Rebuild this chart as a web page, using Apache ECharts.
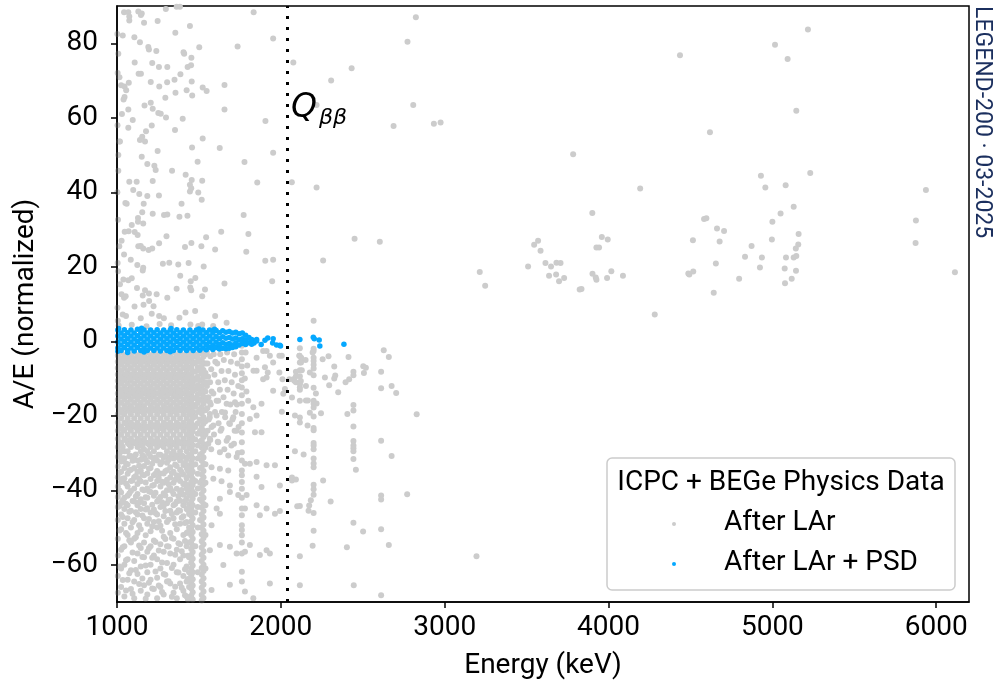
<!DOCTYPE html>
<html>
<head>
<meta charset="utf-8">
<script src="https://cdn.jsdelivr.net/npm/echarts@6/dist/echarts.min.js"></script>
<style>
html, body { margin: 0; padding: 0; background: #fff; }
#chart { width: 997px; height: 692px; }
</style>
</head>
<body>
<div id="chart"></div>
<script>
// axis ticks
const xTicks = [1000, 2000, 3000, 4000, 5000, 6000];
const yTicks = [-60, -40, -20, 0, 20, 40, 60, 80];
const qbb = 2039;
const seriesNames = ['After LAr', 'After LAr + PSD'];
const seriesColors = ['#cccccc', '#05a8ff'];

// dense gray block below the band: [energy, [A/E values]]
const denseCols = [
  [1005, [-3.8,-5.5,-7.2,-8.9,-10.6,-12.3,-14,-15.7,-17.4,-19.6,-21.8,-24,-26.2,-28.4,-31,-33.6,-36.5,-39,-41.8,-44.5,-48,-53,-57.5,-63,-67.5]],
  [1025, [-3,-4.6,-6.3,-8,-9.7,-11.4,-13.1,-14.8,-16.5,-18.5,-20.7,-22.9,-25.1,-27.3,-29.5,-32.3,-35,-37.8,-40.6,-43.4,-46.5,-50.5,-56,-61,-66]],
  [1045, [-3.8,-5.5,-7.2,-8.9,-10.6,-12.3,-14,-15.7,-17.4,-19.6,-21.8,-24,-26.2,-29.5,-31.5,-34,-36.8,-42,-45,-49,-55,-60,-68.5]],
  [1065, [-3,-4.6,-6.3,-8,-9.7,-11.4,-13.1,-14.8,-16.5,-18.5,-20.7,-22.9,-25.1,-27.3,-29.5,-33,-35.6,-39,-41.5,-44,-47.5,-52,-58.5,-64]],
  [1085, [-3.8,-5.5,-7.2,-8.9,-10.6,-12.3,-14,-15.7,-17.4,-19.6,-21.8,-24,-26.2,-28.4,-30.8,-34.5,-37.5,-40.2,-45.5,-50,-54,-61.5,-66.5]],
  [1105, [-3,-4.6,-6.3,-8,-9.7,-11.4,-13.1,-14.8,-16.5,-18.5,-20.7,-22.9,-25.1,-27.3,-31.5,-34,-36.5,-39.5,-43,-48,-53,-59,-64.5,-69]],
  [1125, [-3.8,-5.5,-7.2,-8.9,-10.6,-12.3,-14,-15.7,-17.4,-19.6,-21.8,-24,-26.2,-28.4,-32,-35,-38.3,-41,-44,-46.5,-51.5,-57,-62.5]],
  [1145, [-3,-4.6,-6.3,-8,-9.7,-11.4,-13.1,-14.8,-16.5,-18.5,-20.7,-22.9,-25.1,-27.3,-29.5,-31.8,-34.6,-37.6,-42.4,-45,-50.5,-55.5,-60.5,-67]],
  [1165, [-3.8,-5.5,-7.2,-8.9,-10.6,-12.3,-14,-15.7,-17.4,-19.6,-21.8,-24,-26.2,-29,-31,-33.5,-36,-40,-43.5,-47.5,-54,-58,-65.5]],
  [1185, [-3,-4.6,-6.3,-8,-9.7,-11.4,-13.1,-14.8,-16.5,-18.5,-20.7,-22.9,-25.1,-27.3,-29.5,-32.5,-35.5,-39.5,-42,-44.8,-49,-56.5,-62,-68]],
  [1205, [-3.8,-5.5,-7.2,-8.9,-10.6,-12.3,-14,-15.7,-17.4,-19.6,-21.8,-24,-26.2,-28.4,-31,-34,-37,-40.5,-46,-51,-55,-60,-64]],
  [1225, [-3,-4.6,-6.3,-8,-9.7,-11.4,-13.1,-14.8,-16.5,-18.5,-20.7,-22.9,-25.1,-27.3,-29.5,-31.7,-36,-38.6,-41.5,-45.2,-48.5,-53.5,-57.5,-66.5]],
  [1245, [-3.8,-5.5,-7.2,-8.9,-10.6,-12.3,-14,-15.7,-17.4,-19.6,-21.8,-24,-26.2,-28.4,-32,-34.8,-37.5,-43,-46.5,-50,-58.5,-63.5,-69]],
  [1265, [-3,-4.6,-6.3,-8,-9.7,-11.4,-13.1,-14.8,-16.5,-18.5,-20.7,-22.9,-25.1,-27.3,-30.5,-33,-35.5,-39,-41.8,-44.5,-49.5,-54.5,-61,-66]],
  [1285, [-3.8,-5.5,-7.2,-8.9,-10.6,-12.3,-14,-15.7,-17.4,-19.6,-21.8,-24,-26.2,-28.4,-31.2,-35.5,-38,-40.8,-44.2,-47,-52.5,-56.5,-62.5,-68]],
  [1305, [-3,-4.6,-6.3,-8,-9.7,-11.4,-13.1,-14.8,-16.5,-18.5,-20.7,-22.9,-25.1,-27.3,-29.5,-32.6,-34.6,-37.2,-40,-43.5,-48.5,-55,-59.5,-64.5]],
  [1325, [-3.8,-5.5,-7.2,-8.9,-10.6,-12.3,-14,-15.7,-17.4,-19.6,-21.8,-24,-26.2,-28.4,-31,-33.8,-36.6,-39.4,-42.5,-45.5,-51.5,-57,-65]],
  [1345, [-3,-4.6,-6.3,-8,-9.7,-11.4,-13.1,-14.8,-16.5,-18.5,-20.7,-22.9,-25.1,-27.3,-29.5,-31.5,-35,-38,-41,-44,-47.5,-53,-60,-67.5]],
  [1365, [-3.8,-5.5,-7.2,-8.9,-10.6,-12.3,-14,-15.7,-17.4,-19.6,-21.8,-24,-26.2,-28.4,-30.6,-33.5,-36,-39.6,-43,-46,-50.5,-56,-62,-69]],
  [1385, [-3,-4.6,-6.3,-8,-9.7,-11.4,-13.1,-14.8,-16.5,-18.5,-20.7,-22.9,-25.1,-27.3,-29.5,-32,-34.5,-37.5,-40.5,-42.8,-45.5,-49,-54.5,-58.5,-65]],
  [1405, [-3.8,-5.5,-7.2,-8.9,-10.6,-12.3,-14,-15.7,-17.4,-19.6,-21.8,-24,-26.2,-28.4,-31,-33.2,-35.8,-38.4,-41.2,-44,-47,-52,-57.5,-63,-67]],
  [1425, [-3,-4.6,-6.3,-8,-9.7,-11.4,-13.1,-14.8,-16.5,-18.5,-20.7,-22.9,-25.1,-27.3,-29.5,-31.6,-34,-36.8,-39.5,-42.3,-45,-48.5,-51.5,-55,-60.5,-64.5,-68.5]],
  [1440, [-3.8,-5.5,-7.2,-8.9,-10.6,-12.3,-14,-15.7,-17.4,-19.6,-21.8,-24,-26.2,-28.4,-30.8,-33.4,-36,-38.6,-41.2,-43.8,-46.4,-50,-54,-58,-62,-66]],
  // K-40 line
  [1453, [-3.5,-5.2,-7.1,-8.8,-10.8,-12.4,-14.3,-16.2,-17.8,-19.8,-21.4,-23.4,-25.1,-26.9,-28.8,-30.4,-32.4,-34.1,-35.8,-37.8,-39.4,-41.4,-43.1,-44.8,-46.8,-48.4,-50.4,-52.1,-53.8,-55.8,-57.4,-59.4,-61.1,-62.8,-64.8,-66.4,-68.3]],
  [1462, [-4.3,-6.1,-8,-9.8,-11.6,-13.4,-15.2,-17,-18.9,-20.6,-22.5,-24.2,-26,-27.9,-29.6,-31.4,-33.2,-35,-36.9,-38.6,-40.4,-42.2,-44,-45.9,-47.6,-49.4,-51.2,-53,-54.9,-56.6,-58.4,-60.2,-62,-63.9,-65.6,-67.4,-69.3]],
  [1478, [-3.5,-5.8,-8.2,-10.4,-12.9,-15.3,-17.6,-20.3,-23,-26.4,-29.5,-33,-37.5,-41,-46,-55]],
  [1493, [-4.5,-7,-9.5,-11.8,-14.2,-16.6,-19,-22,-24.8,-28,-31.5,-35.6,-39.5,-44.5,-50,-62]],
  [1507, [-3.2,-5.6,-8,-10.6,-13,-15.6,-18.2,-21,-24,-27,-30.5,-34,-38,-42.5,-48]],
  // K-42 line
  [1517, [-3.2,-5,-6.9,-8.6,-10.5,-12.2,-14.1,-15.8,-17.7,-19.4,-21.3,-23,-24.9,-26.6,-28.5,-30.2,-32.1,-33.8,-35.7,-37.4,-39.3,-41,-42.9,-44.6,-46.5,-48.2,-50.1,-51.8,-53.7,-55.4,-57.3,-59,-60.9,-62.6,-64.5,-66.2,-68.1,-69.6]],
  [1528, [-4.1,-5.9,-7.7,-9.6,-11.3,-13.2,-14.9,-16.8,-18.5,-20.4,-22.1,-24,-25.7,-27.6,-29.3,-31.2,-32.9,-34.8,-36.5,-38.4,-40.1,-42,-43.7,-45.6,-47.3,-49.2,-50.9,-52.8,-54.5,-56.4,-58.1,-60,-61.7,-63.6,-65.3,-67.2,-68.9]],
  [1540, [-3.5,-6,-8.5,-11,-13.5,-16,-18.5,-21.5,-25,-28.5,-33,-38,-44,-52,-61]],
  // Bi-214 line
  [1762, [-1.2,-3,-4.8,-6.8,-8.6,-10.5,-12.4,-14.5,-16.8,-19.5,-22,-24.5,-27.1,-29.8,-32,-34.7,-36,-37.8,-39.6,-42,-44.9,-46.7,-49.4,-50.7,-52.1,-54,-57,-61.9,-64.5]]
];

// extra gray in between the columns above (fills the holes of the block)
const denseFill = [
  [1015, [-4.6,-9.4,-13.8,-18.3,-22.8,-27.1,-30.2,-35.3,-40.1,-44.2,-50.8,-60.5]],
  [1035, [-5.1,-10.2,-14.6,-19.2,-23.7,-28.3,-31.4,-36.9,-42.7,-47.2,-55.3,-64.1]],
  [1055, [-4.3,-8.8,-13.1,-17.9,-22.1,-26.6,-32.8,-38.2,-43.6,-51.5,-58.8,-66.9]],
  [1075, [-5.4,-9.9,-14.2,-18.8,-23.3,-27.8,-30.9,-34.7,-40.9,-45.8,-53.4,-62.3]],
  [1095, [-4.8,-9.1,-13.6,-18.1,-22.4,-26.9,-32.1,-37.4,-42.9,-48.6,-56.7,-67.8]],
  [1115, [-5.2,-9.6,-14.4,-18.6,-23.1,-27.4,-30.4,-36.2,-41.7,-45.9,-52.6,-61.4]],
  [1135, [-4.4,-8.9,-13.3,-17.7,-22.6,-26.5,-33.4,-37.0,-43.3,-49.4,-54.8,-65.2]],
  [1155, [-5.0,-9.8,-14.1,-18.9,-23.5,-28.1,-30.6,-35.8,-39.8,-46.8,-57.9,-63.7]],
  [1175, [-4.7,-9.2,-13.7,-18.4,-22.9,-27.2,-31.8,-37.9,-41.9,-45.2,-52.1,-60.2,-69.1]],
  [1195, [-5.3,-9.7,-14.3,-18.7,-23.2,-27.7,-30.3,-34.2,-40.3,-47.7,-55.6,-64.8]],
  [1215, [-4.5,-9.0,-13.5,-18.0,-22.5,-26.8,-32.9,-38.8,-43.9,-49.7,-58.1,-66.4]],
  [1235, [-5.1,-9.5,-14.0,-18.5,-23.0,-27.5,-31.2,-35.6,-40.7,-46.1,-53.9,-61.8]],
  [1255, [-4.6,-9.3,-13.9,-18.2,-22.7,-27.0,-30.5,-36.7,-42.4,-48.3,-56.2,-65.6]],
  [1275, [-5.2,-9.8,-14.2,-18.8,-23.4,-27.9,-32.4,-37.7,-43.2,-50.9,-59.4,-67.3]],
  [1295, [-4.4,-9.0,-13.4,-17.9,-22.3,-26.7,-30.8,-34.9,-41.4,-45.6,-53.1,-62.7]],
  [1315, [-5.0,-9.6,-14.1,-18.6,-23.1,-27.6,-31.9,-38.4,-42.6,-47.9,-55.1,-64.4]],
  [1335, [-4.7,-9.2,-13.6,-18.1,-22.6,-27.1,-30.2,-35.4,-40.2,-46.4,-52.8,-60.9,-68.6]],
  [1355, [-5.3,-9.7,-14.3,-18.9,-23.3,-27.8,-33.1,-37.2,-43.7,-49.1,-57.3,-65.9]],
  [1375, [-4.5,-9.1,-13.5,-18.0,-22.4,-26.9,-31.3,-36.4,-41.6,-45.4,-54.2,-62.1]],
  [1395, [-5.1,-9.5,-14.0,-18.4,-23.0,-27.4,-30.7,-35.1,-39.9,-47.4,-56.4,-66.2]],
  [1415, [-4.6,-9.2,-13.8,-18.3,-22.8,-27.3,-32.6,-38.1,-42.9,-48.8,-53.6,-61.2,-68.2]],
  [1433, [-5.0,-9.4,-13.9,-18.5,-23.0,-27.5,-31.1,-34.8,-40.6,-45.3,-51.2,-57.6,-63.8,-69.4]]
];

// looser gray between 1550 and 2000 keV, below the band
const midPts = [
  [1548,-3],[1552,-6],[1556,-9.5],[1549,-12],[1558,-15],[1551,-18],[1560,-21],[1553,-24],[1557,-27.5],
  [1570,-4],[1575,-7.5],[1568,-11],[1578,-13.5],[1572,-17],[1566,-20.5],[1577,-23],[1569,-26.5],[1575,-29],
  [1590,-3.5],[1595,-9],[1588,-14],[1598,-19],[1592,-25],[1600,-5.5],
  [1612,-6],[1618,-11],[1608,-16],[1620,-22],[1615,-27],
  [1630,-3.5],[1638,-8],[1628,-13],[1640,-19],[1632,-24],
  [1652,-5],[1658,-10.5],[1650,-15],[1660,-20.4],[1655,-29],
  [1672,-3],[1680,-8],[1675,-13],[1669,-16.8],[1685,-22],[1678,-26],
  [1695,-5.5],[1700,-11],[1692,-17],[1705,-21],[1698,-28],
  [1715,-3.5],[1720,-9],[1712,-14],[1724,-19],[1718,-24],
  [1735,-6],[1740,-12],[1732,-17],[1742,-23],[1738,-30],
  [1785,-3],[1795,-6.5],[1780,-10],[1790,-13.5],
  [1567,-16.4],[1618,-16.0],[1720,-16.4],[1801,-16.0],[1832,-17.7],[1882,-16.8],
  [1567,-19.5],[1608,-19.9],[1659,-19.1],[1710,-20.4],[1811,-20.9],[1852,-19.9],
  [1588,-22.6],[1638,-23.5],[1689,-22.2],[1730,-24.0],[1842,-24.4],[1882,-24.4],
  [1567,-26.2],[1618,-27.1],[1669,-26.7],[1714,-27.5],
  [1628,-29.8],[1679,-30.7],[1730,-31.1],[1852,-32.4],[1913,-33.3],[1964,-33.3],[1781,-32.9],[1811,-32.9],
  [1577,-33.8],[1628,-34.2],[1679,-34.7],
  [1588,-36.9],[1638,-37.6],[1689,-38.7],[1852,-36.4],[1882,-39.1],
  [1628,-42.3],[1689,-40.5],[1740,-41.3],[1791,-41.3],[1852,-44.0],[1872,-46.7],[1913,-44.9],[1964,-46.3],[1608,-44.9],[1628,-46.3],[1781,-44.9],
  [1577,-49.4],[1628,-54.7],[1689,-55.2],[1730,-57.0],[1781,-56.5],[1811,-54.7],[1913,-56.1],[1933,-57.0],[1567,-56.1],[1872,-57.4],
  [1649,-60.1],[1689,-65.4],[1781,-67.2],[1832,-69.0],[1933,-65.0],[1577,-66.8],
  [1913,-2.6],[1852,-4.4],[1852,-7.9],[1903,-7.0],[1913,-9.7],[1892,-2.6],[1933,-3.9],[1953,-5.7],[1991,-3.9],
  [1991,-8.4],[1920,-8.4],[1833,-7.9],[1892,-10.2],[1953,-13.3],[2025,-12.8],
  [2006,-3.9],[2010,-10.2],[2015,-14.1],[2006,-18.9],[1994,-38.7],[1994,-45.6]
];

// sparse gray above the band, below 2000 keV
const upperPts = [
  [1043,88.3],[1069,88.3],[1130,88.5],[1151,88.0],[1146,87.6],[1298,89.2],[1364,89.8],[1384,89.8],[1834,88.3],
  [1075,86.1],[1075,87.2],[1165,85.5],[1248,86.0],[1445,84.6],
  [1002,82.5],[1035,82.1],[1106,81.6],[1140,80.3],[1356,82.8],[1953,81.3],
  [1191,79.0],[1195,78.3],[1240,77.9],[1406,77.6],[1410,77.2],[1502,78.9],[1736,79.1],[1008,77.2],
  [1108,74.8],[1215,74.7],[1256,73.6],[1307,73.6],[1454,76.1],[1452,74.1],[1431,73.6],
  [1132,71.8],[1146,71.8],[1387,71.7],[1351,70.2],[1306,69.5],
  [1015,70.9],[1025,68.7],[1046,68.4],[1072,69.4],[1056,67.4],[1046,65.6],[1040,64.9],
  [1206,69.6],[1258,68.4],[1456,69.7],[1425,67.4],[1459,66.0],[1357,66.7],[1523,68.1],[1547,67.2],[1295,65.4],[1656,68.8],
  [1168,63.3],[1206,64.0],[1218,62.4],[1252,61.3],[1267,61.1],[1299,60.1],[1401,59.7],[1656,62.2],
  [1069,62.2],[1030,61.0],[1096,59.4],[1069,57.3],[1014,53.6],[1008,50.0],
  [1212,57.9],[1177,56.4],[1154,54.9],[1140,54.0],[1171,53.6],[1354,56.7],[1523,54.4],[1627,51.9],[1906,59.1],
  [1151,49.5],[1248,51.1],[1458,52.0],[1492,48.2],[1778,48.1],[1953,50.6],
  [1185,47.6],[1228,47.1],[1236,46.0],[1336,45.8],[1419,44.7],[1456,43.3],[1445,42.0],[1453,41.1],[1496,39.9],[1520,43.1],
  [1075,42.8],[1120,42.8],[1218,43.0],[1099,40.6],[1136,39.5],[1185,39.0],[1256,39.1],[1445,40.2],[1856,42.6],[1018,53.6],[1008,45.8],
  [1051,37.1],[1059,36.9],[1163,36.9],[1394,36.9],[1517,38.0],
  [1154,34.6],[1218,34.2],[1287,33.9],[1307,34.0],[1381,33.4],[1430,33.7],[1773,33.9],
  [1006,32.6],[1128,33.1],[1128,32.1],[1160,31.6],[1090,31.2],[1071,29.5],[1047,29.4],[1108,29.3],[1126,28.5],
  [1302,28.2],[1257,26.3],[1215,24.9],[1193,24.5],[1415,25.3],[1454,26.4],[1515,25.5],[1544,27.9],[1599,24.6],[1636,29.4],[1802,28.8],[1789,24.0],[1905,21.6],
  [1028,27.0],[1014,25.5],[1043,23.3],[1130,25.5],[1145,25.6],[1160,24.9],[1084,21.9],[1124,20.5],[1160,19.7],[1157,19.0],
  [1280,20.8],[1319,21.1],[1374,20.6],[1437,21.0],[1529,20.1],[1386,17.6],[1478,17.0],[1450,16.1],
  [1006,18.8],[1039,16.6],[1069,16.4],[1090,16.9],[1122,14.3],[1171,13.7],[1018,15.3],
  [1028,12.6],[1043,11.7],[1053,12.1],[1157,12.3],[1195,12.8],[1242,12.6],[1307,11.7],[1364,14.1],[1453,13.7],[1447,14.4],[1520,12.1],[1537,13.9],[1656,15.5],
  [1107,9.3],[1162,9.8],[1196,10.8],[1223,9.4],[1257,6.8],[1286,6.2],[1381,6.3],[1418,7.7],[1599,6.8],[1477,8.1],
  [1035,7.2],[1055,6.8],[1145,6.2],[1212,7.4],[1953,21.9],[1947,16.1],
  [1669,5.0],[1448,4.5],[1496,4.1],[1587,4.1],
  [1010,4.2],[1090,4.4],[1180,4.0],[1260,4.6],[1330,4.3],[1520,4.5],[1005,5.5],[1003,9],[1004,21],[1002,40],[1003,58],[1004,72]
];

// gray above 2000 keV
const highPts = [
  [2824,87.0],[2773,80.4],[2076,74.8],[2432,73.3],[2307,70.0],[2808,63.4],[2218,63.4],[2688,57.8],[2934,58.4],[2975,58.7],
  [3784,50.2],[2067,42.7],[2218,41.3],[2450,27.5],[2604,26.7],[2258,21.7],[3214,18.6],[3247,14.9],[2200,5.5],
  [3546,25.9],[3570,27.0],[3585,24.3],[3509,20.1],[3615,21.0],[3649,20.1],[3682,21.1],[3707,21.0],[3637,17.6],[3680,17.9],
  [3729,17.0],[3698,16.1],[3824,13.9],
  [5217,83.7],[5016,79.6],[5093,75.8],[4436,76.8],[5146,61.9],[4619,56.1],[4193,41.0],[5231,45.2],[4930,44.4],[4957,41.3],
  [5081,41.9],[5937,40.6],[5130,36.1],[5050,34.3],[5000,32.1],[5876,32.4],[5874,26.4],
  [3901,34.4],[3959,28.0],[3926,25.2],[3942,25.2],[3995,27.3],[4583,32.8],[4597,33.0],[4662,30.3],[4705,29.6],[4678,26.8],
  [4515,27.1],[4997,27.3],[5160,28.8],[5158,26.0],[5143,24.9],[4873,25.6],[4833,22.7],[4936,22.5],[5083,22.5],[5130,22.5],
  [5146,22.9],[4924,19.8],[5075,19.5],[5144,18.9],[5118,16.8],[5077,15.6],[4655,20.9],[4642,13.0],[4493,17.9],[4487,18.2],
  [4517,18.7],[4797,16.8],[6114,18.5],[4282,7.2],[3902,18.1],[3922,17.1],[3926,16.5],[3991,17.0],[4017,18.8],[4088,17.6],[3835,14.0],
  [2116,-1.9],[2200,-2.0],[2200,-2.6],[2194,-3.0],[2114,-3.9],[2124,-4.4],[2151,-5.0],[2116,-5.7],[2200,-4.4],[2200,-5.3],
  [2200,-6.3],[2200,-7.3],[2255,-4.8],[2291,-4.0],[2413,-4.2],[2628,-2.4],[2659,-4.2],[2326,-6.8],[2503,-6.7],[2519,-7.1],
  [2507,-8.5],[2443,-8.2],[2443,-9.1],[2417,-10.2],[2395,-11.0],[2332,-9.2],[2326,-10.0],[2269,-9.7],[2295,-11.8],[2350,-13.7],
  [2092,-8.2],[2116,-7.8],[2128,-7.8],[2177,-8.4],[2200,-9.1],[2092,-9.4],[2116,-9.4],[2076,-10.2],[2122,-10.7],[2092,-11.0],
  [2153,-12.0],[2116,-12.4],[2116,-13.0],[2200,-12.5],[2214,-14.0],[2612,-8.2],[2612,-12.6],[2676,-12.0],[2704,-13.9],
  [2068,-15.1],[2116,-16.0],[2153,-15.9],[2165,-15.9],[2200,-16.0],[2200,-16.8],[2218,-16.7],[2200,-17.8],[2443,-17.1],
  [2443,-18.6],[2406,-19.5],[2245,-19.3],[2177,-19.2],[2086,-19.9],[2116,-20.5],[2116,-21.8],[2163,-22.6],[2200,-20.2],
  [2200,-23.3],[2200,-23.9],[2829,-19.6],[2443,-22.9],[2612,-26.7],[2443,-26.8],[2443,-28.0],[2443,-28.7],[2443,-29.5],
  [2443,-31.6],[2458,-34.5],[2200,-27.3],[2200,-28.0],[2200,-29.0],[2200,-31.5],[2200,-32.8],[2200,-33.8],[2086,-29.5],
  [2139,-30.4],[2676,-30.8],[2068,-36.6],[2068,-37.4],[2092,-37.1],[2258,-37.4],[2200,-38.5],[2200,-39.7],[2200,-41.2],
  [2183,-42.7],[2173,-44.1],[2116,-44.2],[2100,-44.3],[2169,-45.5],[2200,-46.1],[2304,-43.0],[2612,-41.4],[2612,-42.5],
  [2771,-41.1],[2443,-48.7],[2502,-51.1],[2612,-50.5],[2200,-50.9],[2194,-54.9],[2403,-55.3],[2659,-54.7],[2116,-57.7],
  [3194,-57.7],[2116,-65.5],[2445,-65.5],[2612,-68.2],
  [2113,-3.9],[2123,-5.7],[2082,-10.6],[2117,-11.5],[2052,-10.2]
];

// blue band: [energy, [A/E values]]
const blueCols = [
  [1005,[3.0,1.4,-0.2,-1.8,-2.7]],[1025,[2.2,0.6,-1.0,-2.5]],[1045,[3.1,1.5,-0.1,-1.7]],[1065,[2.3,0.7,-0.9,-2.5,-3.0]],
  [1085,[3.0,1.4,-0.2,-1.8]],[1105,[2.2,0.6,-1.0,-2.6]],[1125,[3.2,1.5,-0.1,-1.7]],[1145,[2.3,0.7,-0.9,-2.5]],
  [1165,[3.0,1.4,-0.2,-1.8,-2.9]],[1185,[2.2,0.6,-1.0,-2.5]],[1205,[3.0,1.4,-0.2,-1.8]],[1225,[2.3,0.7,-0.9,-2.5]],
  [1245,[3.1,1.5,-0.2,-1.8]],[1265,[2.2,0.6,-1.0,-2.6]],[1285,[3.0,1.4,-0.2,-1.8]],[1305,[2.3,0.7,-0.9,-2.5]],
  [1325,[3.0,1.4,-0.2,-1.8,-2.8]],[1345,[2.2,0.6,-1.0,-2.5]],[1365,[3.1,1.5,-0.1,-1.7]],[1385,[2.3,0.7,-0.9,-2.5]],
  [1405,[3.0,1.4,-0.2,-1.8]],[1425,[2.2,0.6,-1.0,-2.5]],[1445,[3.0,1.4,-0.2,-1.8]],[1465,[2.3,0.7,-0.9,-2.5]],
  [1485,[3.0,1.4,-0.2,-1.8]],[1505,[2.2,0.6,-1.0,-2.4]],[1525,[3.0,1.4,-0.2,-1.8]],[1545,[2.3,0.7,-0.9,-2.3]],
  [1565,[3.0,1.4,-0.2,-1.7]],[1585,[2.2,0.6,-1.0,-2.2]],[1605,[2.9,1.3,-0.3,-1.7]],[1625,[2.3,0.7,-0.9,-2.1]],
  [1645,[2.8,1.2,-0.4,-1.9]],[1665,[2.4,0.8,-0.8,-2.0]],[1685,[2.6,1.0,-0.6,-1.9]],[1705,[2.2,0.6,-1.0,-1.7]],
  [1725,[2.4,0.9,-0.5,-1.5]],[1745,[2.0,0.4,-1.0]],[1765,[2.2,0.7,-0.6]],[1785,[1.6,0.2,-0.9]],
  [1805,[1.0,-0.4]],[1822,[0.5,-0.8]]
];
const bluePts = [
  [1836,-0.5],[1852,0.5],[1852,0.1],[1880,-0.9],[1903,0.3],[1920,0.9],[1950,-0.5],[1953,0.7],[1974,-1.0],[1994,-1.1],
  [1998,-1.3],[2116,0.45],[2198,1.1],[2204,0.7],[2234,0.35],[2238,-1.3],[2385,-0.8],
  [1010,3.4],[1150,3.5],[1330,3.4],[1500,3.3],[1595,3.2]
];

function fromCols(cols) {
  var out = [];
  cols.forEach(function (c) {
    c[1].forEach(function (v) { out.push([c[0], v]); });
  });
  return out;
}

var grayData = fromCols(denseCols).concat(fromCols(denseFill), midPts, upperPts, highPts);
var blueData = fromCols(blueCols).concat(bluePts);

var font = 'Roboto';
var fs = 28;
var chart = echarts.init(document.getElementById('chart'));

function txt(x, y, text, font, fill, align, extra) {
  var el = {
    type: 'text', z: 6, x: x, y: y, silent: true,
    style: { text: text, font: font, fill: fill,
      align: align, verticalAlign: 'middle', textAlign: align, textVerticalAlign: 'middle' }
  };
  return Object.assign(el, extra || {});
}

chart.setOption({
  animation: false,
  grid: {
    left: 117, right: 28, top: 6, bottom: 90,
    show: true, borderColor: '#000', borderWidth: 1.5
  },
  xAxis: {
    type: 'value', min: 1000, max: 6200, z: 10,
    name: 'Energy (keV)', nameLocation: 'middle', nameGap: 50,
    nameTextStyle: { fontFamily: font, fontSize: fs, color: '#000' },
    axisLine: { show: true, onZero: false, lineStyle: { color: '#000', width: 1.5 } },
    axisTick: { show: true, length: 6, lineStyle: { color: '#000', width: 1.5 }, customValues: xTicks },
    axisLabel: {
      fontFamily: font, fontSize: fs, color: '#000', margin: 12, customValues: xTicks,
      formatter: function (v) { return String(v); }
    },
    splitLine: { show: false }
  },
  yAxis: {
    type: 'value', min: -70, max: 90, z: 10,
    name: 'A/E (normalized)', nameLocation: 'middle', nameGap: 75, nameRotate: 90,
    nameTextStyle: { fontFamily: font, fontSize: fs, color: '#000' },
    axisLine: { show: true, onZero: false, lineStyle: { color: '#000', width: 1.5 } },
    axisTick: { show: true, length: 6, lineStyle: { color: '#000', width: 1.5 }, customValues: yTicks },
    axisLabel: {
      fontFamily: font, fontSize: fs, color: '#000', margin: 19, customValues: yTicks,
      formatter: function (v) { return v < 0 ? '\u2212' + (-v) : String(v); }
    },
    splitLine: { show: false }
  },
  graphic: [
    {
      type: 'rect', z: 5, silent: true,
      shape: { x: 607, y: 458, width: 348, height: 132, r: 5 },
      style: { fill: 'rgba(255,255,255,0.8)', stroke: '#cccccc', lineWidth: 1.5 }
    },
    txt(781, 483, 'ICPC + BEGe Physics Data', fs + 'px Roboto', '#000', 'center'),
    { type: 'circle', z: 6, silent: true, shape: { cx: 674, cy: 524, r: 2 }, style: { fill: seriesColors[0] } },
    txt(724, 523, seriesNames[0], fs + 'px Roboto', '#000', 'left'),
    { type: 'circle', z: 6, silent: true, shape: { cx: 674, cy: 564, r: 2 }, style: { fill: seriesColors[1] } },
    txt(724, 563, seriesNames[1], fs + 'px Roboto', '#000', 'left'),
    txt(291, 108, 'Q', 'italic 33px "DejaVu Sans"', '#000', 'left'),
    txt(319, 118, '\u03b2\u03b2', 'italic 22px "DejaVu Sans"', '#000', 'left'),
    txt(982, 6, 'LEGEND-200 \u00b7 03-2025', '23px Roboto', '#1b2f5e', 'left', { rotation: -Math.PI / 2 })
  ],
  series: [
    {
      name: seriesNames[0], type: 'scatter', data: grayData,
      symbolSize: 6, itemStyle: { color: seriesColors[0], opacity: 1 },
      emphasis: { disabled: true }, silent: true, z: 2
    },
    {
      name: seriesNames[1], type: 'scatter', data: blueData,
      symbolSize: 5.5, itemStyle: { color: seriesColors[1], opacity: 1 },
      emphasis: { disabled: true }, silent: true, z: 3,
      markLine: {
        silent: true, symbol: 'none', animation: false,
        label: { show: false },
        lineStyle: { color: '#000', width: 3, type: [3, 8] },
        data: [{ xAxis: qbb }]
      }
    }
  ]
});
</script>
</body>
</html>
